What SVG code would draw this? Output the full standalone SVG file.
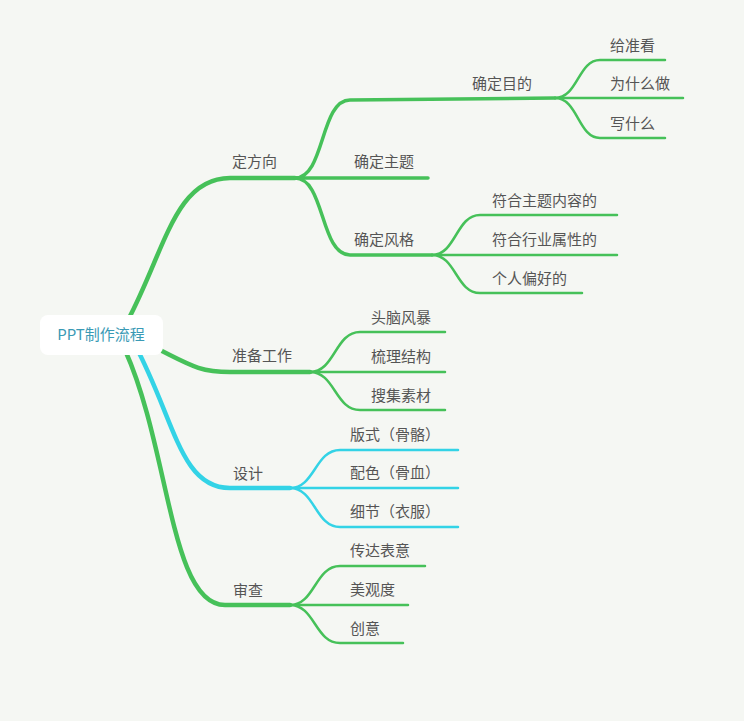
<svg xmlns="http://www.w3.org/2000/svg" width="744" height="721" viewBox="0 0 744 721">
<style>
.g{fill:none;stroke:#46c159;stroke-linecap:round}
.c{fill:none;stroke:#33d3e6;stroke-linecap:round}
.m{stroke-width:4.5}.s{stroke-width:3.5}.l{stroke-width:2.5}
text{font-family:"Noto Sans CJK SC","Liberation Sans",sans-serif;font-size:15px;fill:#555}
</style>
<rect width="744" height="721" fill="#f5f7f3"/>
<g id="connectors">
<path class="g m" d="M128 320 C165 250 175 178 230 178 L295 178"/>
<path class="g m" d="M160 350 C190 365 200 372 230 372 L310 372"/>
<path class="c m" d="M135 345 C175 420 180 488 230 488 L290 488"/>
<path class="g m" d="M125 350 C170 450 170 605 225 605 L290 605"/>
<path class="g s" d="M295 178 C325 178 320 100 350 100 L555 98"/>
<path class="g s" d="M295 178 L428 178"/>
<path class="g s" d="M295 178 C325 178 320 255 350 255 L432 255"/>
<path class="g l" d="M555 98 C578 98 578 60 600 60 L665 60"/>
<path class="g l" d="M555 98 L683 98"/>
<path class="g l" d="M555 98 C578 98 578 138 600 138 L665 138"/>
<path class="g l" d="M432 255 C456 255 456 215 480 215 L617 215"/>
<path class="g l" d="M432 255 L617 255"/>
<path class="g l" d="M432 255 C456 255 456 293 480 293 L582 293"/>
<path class="g l" d="M310 372 C335 372 335 332 360 332 L445 332"/>
<path class="g l" d="M310 372 L445 372"/>
<path class="g l" d="M310 372 C335 372 335 410 360 410 L445 410"/>
<path class="c l" d="M290 488 C315 488 315 450 340 450 L458 450"/>
<path class="c l" d="M290 488 L458 488"/>
<path class="c l" d="M290 488 C315 488 315 527 340 527 L458 527"/>
<path class="g l" d="M290 605 C315 605 315 566 340 566 L425 566"/>
<path class="g l" d="M290 605 L408 605"/>
<path class="g l" d="M290 605 C315 605 315 643 340 643 L403 643"/>
</g>
<g id="root"><rect x="40" y="315" width="123" height="40" rx="8" fill="#fff"/><text x="101" y="340" text-anchor="middle" style="fill:#3a9ab5">PPT制作流程</text></g>
<g id="n1"><text x="232" y="167">定方向</text></g>
<g id="n2"><text x="232" y="361">准备工作</text></g>
<g id="n3"><text x="233" y="479">设计</text></g>
<g id="n4"><text x="233" y="596">审查</text></g>
<g id="n11"><text x="472" y="89">确定目的</text></g>
<g id="n12"><text x="354" y="167">确定主题</text></g>
<g id="n13"><text x="354" y="245">确定风格</text></g>
<g id="n111"><text x="610" y="51">给准看</text></g>
<g id="n112"><text x="610" y="89">为什么做</text></g>
<g id="n113"><text x="610" y="129">写什么</text></g>
<g id="n131"><text x="492" y="206">符合主题内容的</text></g>
<g id="n132"><text x="492" y="245">符合行业属性的</text></g>
<g id="n133"><text x="492" y="284">个人偏好的</text></g>
<g id="n21"><text x="371" y="323">头脑风暴</text></g>
<g id="n22"><text x="371" y="362">梳理结构</text></g>
<g id="n23"><text x="371" y="401">搜集素材</text></g>
<g id="n31"><text x="350" y="440">版式（骨骼）</text></g>
<g id="n32"><text x="350" y="478">配色（骨血）</text></g>
<g id="n33"><text x="350" y="517">细节（衣服）</text></g>
<g id="n41"><text x="350" y="556">传达表意</text></g>
<g id="n42"><text x="350" y="595">美观度</text></g>
<g id="n43"><text x="350" y="634">创意</text></g>
</svg>
